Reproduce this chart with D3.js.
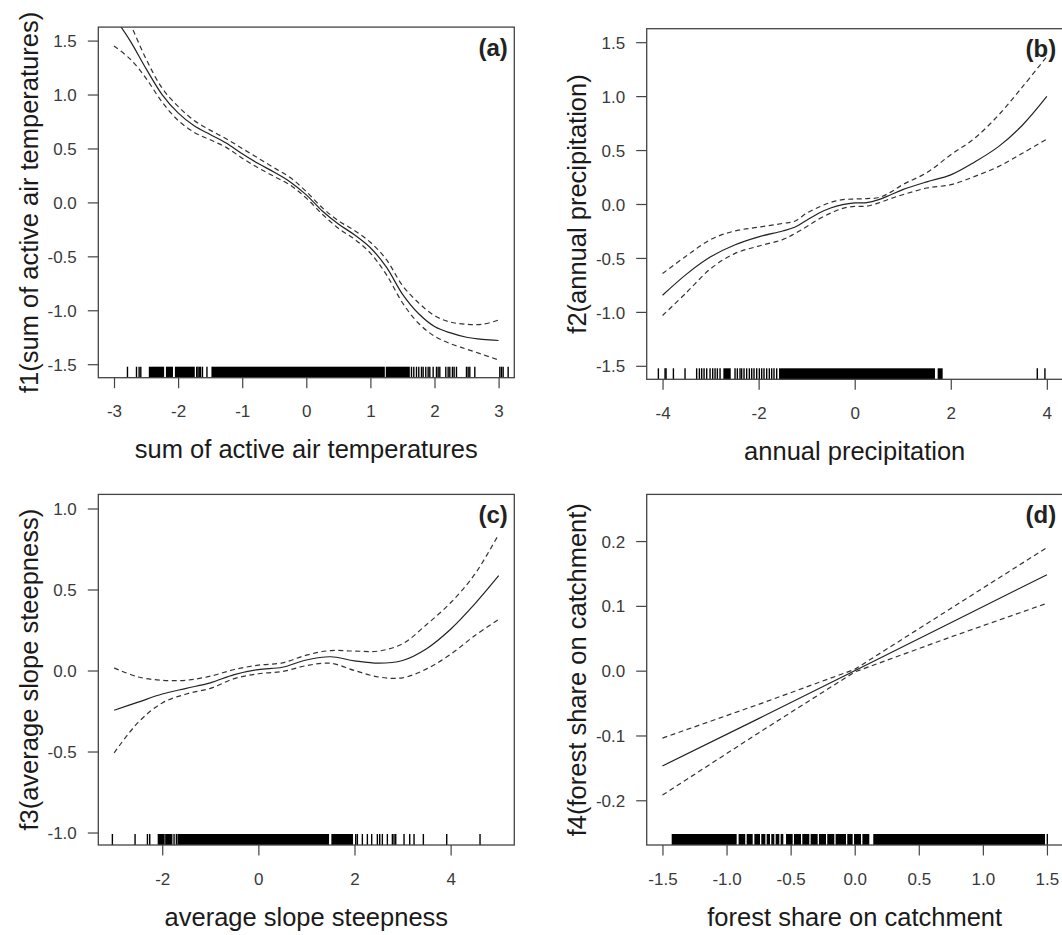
<!DOCTYPE html>
<html>
<head>
<meta charset="utf-8">
<script src="https://cdn.jsdelivr.net/npm/d3@7/dist/d3.min.js"></script>
<style>
  body { margin: 0; background: #fff; }
  svg { display: block; font-family: "Liberation Sans", Arial, sans-serif; }
</style>
</head>
<body>
<svg width="1062" height="935"></svg>
<script>
// ---- panel (a): sum of active air temperatures
var xA   = [-3,-2.75,-2.5,-2.25,-2,-1.75,-1.5,-1.25,-1,-0.75,-0.5,-0.25,0,0.25,0.5,0.75,1,1.25,1.5,1.75,2,2.25,2.5,2.75,3];
var fitA = [1.72,1.50,1.24,1.00,0.83,0.71,0.63,0.55,0.45,0.36,0.28,0.19,0.07,-0.08,-0.20,-0.30,-0.42,-0.60,-0.85,-1.03,-1.15,-1.21,-1.25,-1.27,-1.28];
var upA  = [1.95,1.66,1.33,1.06,0.89,0.76,0.67,0.59,0.50,0.41,0.32,0.23,0.10,-0.05,-0.17,-0.26,-0.37,-0.53,-0.77,-0.93,-1.05,-1.11,-1.13,-1.13,-1.09];
var loA  = [1.45,1.33,1.15,0.93,0.76,0.65,0.58,0.51,0.41,0.32,0.24,0.16,0.04,-0.11,-0.24,-0.34,-0.47,-0.67,-0.93,-1.12,-1.24,-1.31,-1.36,-1.41,-1.46];
var rugTicksA  = [-2.79,-2.649,-2.608,-2.582,-1.71,-1.69,-1.67,-1.65,-1.62,-1.55,1.641,1.677,1.719,1.755,1.797,1.823,1.864,1.901,1.927,1.979,2.031,2.057,2.083,2.176,2.213,2.239,2.28,2.306,2.343,2.499,2.525,2.551,2.629,3.019,3.045,3.071,3.149];
var rugBlocksA = [[-2.457,-2.218],[-2.19,-2.08],[-2.05,-1.74],[-1.48,1.225],[1.24,1.615]];
var xTicksA = [-3,-2,-1,0,1,2,3];
var yTicksA = [-1.5,-1,-0.5,0,0.5,1,1.5];

// ---- panel (b): annual precipitation
var xB   = [-4,-3.5,-3,-2.5,-2,-1.5,-1.25,-1,-0.75,-0.5,-0.25,0,0.25,0.5,0.75,1,1.5,2,2.5,3,3.5,4];
var fitB = [-0.846,-0.65,-0.49,-0.38,-0.305,-0.25,-0.216,-0.15,-0.085,-0.037,-0.006,0.01,0.012,0.04,0.086,0.133,0.205,0.27,0.39,0.534,0.735,0.997];
var upB  = [-0.645,-0.48,-0.33,-0.25,-0.215,-0.18,-0.16,-0.085,-0.03,0.015,0.04,0.046,0.05,0.06,0.11,0.18,0.29,0.457,0.611,0.827,1.09,1.367];
var loB  = [-1.034,-0.82,-0.6,-0.46,-0.39,-0.33,-0.275,-0.21,-0.14,-0.085,-0.04,-0.022,-0.02,0.01,0.05,0.086,0.148,0.179,0.256,0.349,0.472,0.602];
var rugTicksB  = [-4.087,-3.948,-3.927,-3.774,-3.532,-3.29,-3.233,-3.185,-3.136,-3.081,-3.011,-2.956,-2.907,-2.859,-2.803,-2.491,-2.443,-2.387,-2.353,-2.304,-2.249,-2.193,-2.144,-2.096,-2.04,-1.985,-1.936,-1.888,-1.832,-1.777,-1.728,-1.68,-1.624,3.801,3.96];
var rugBlocksB = [[-2.734,-2.581],[-1.575,1.671],[1.727,1.831]];
var xTicksB = [-4,-2,0,2,4];
var yTicksB = [-1.5,-1,-0.5,0,0.5,1,1.5];

// ---- panel (c): average slope steepness
var xC   = [-3,-2.5,-2,-1.5,-1,-0.5,0,0.5,1,1.5,2,2.5,3,3.5,4,4.5,5];
var fitC = [-0.245,-0.195,-0.145,-0.11,-0.076,-0.025,0.006,0.02,0.065,0.085,0.06,0.045,0.062,0.135,0.255,0.41,0.585];
var upC  = [0.016,-0.04,-0.06,-0.06,-0.035,0.006,0.033,0.047,0.095,0.123,0.12,0.12,0.165,0.284,0.418,0.593,0.84];
var loC  = [-0.508,-0.32,-0.2,-0.145,-0.11,-0.05,-0.02,-0.006,0.03,0.045,0.0,-0.04,-0.045,0.01,0.1,0.215,0.315];
var rugTicksC  = [-3.037,-2.565,-2.308,-2.26,-2.08,-2.052,-2.01,-1.941,-1.892,-1.802,-1.754,-1.705,2.026,2.06,2.164,2.268,2.358,2.476,2.525,2.58,2.684,2.788,2.823,2.858,3.031,3.149,3.239,3.433,3.919,4.612];
var rugBlocksC = [[-2.07,-1.96],[-1.93,-1.81],[-1.684,1.471],[1.519,1.97]];
var xTicksC = [-2,0,2,4];
var yTicksC = [-1,-0.5,0,0.5,1];

// ---- panel (d): forest share on catchment
var xD   = [-1.5,-0.75,0,0.75,1.5];
var fitD = [-0.147,-0.074,0,0.074,0.148];
var upD  = [-0.104,-0.052,0.002,0.096,0.19];
var loD  = [-0.192,-0.096,-0.002,0.052,0.104];
var rugTicksD  = [1.503];
var rugBlocksD = [[-1.428,-0.921],[-0.906,-0.854],[-0.843,-0.796],[-0.783,-0.739],[-0.729,-0.697],[-0.687,-0.661],[-0.651,-0.627],[-0.617,-0.588],[-0.578,-0.557],[-0.536,-0.484],[-0.474,-0.419],[-0.409,-0.354],[-0.344,-0.289],[-0.279,-0.224],[-0.214,-0.159],[-0.149,-0.068],[-0.058,-0.016],[-0.005,0.049],[0.06,0.114],[0.145,1.485]];
var xTicksD = [-1.5,-1,-0.5,0,0.5,1,1.5];
var yTicksD = [-0.2,-0.1,0,0.1,0.2];

var xTitles = ["sum of active air temperatures", "annual precipitation", "average slope steepness", "forest share on catchment"];
var yTitles = ["f1(sum of active air temperatures)", "f2(annual precipitation)", "f3(average slope steepness)", "f4(forest share on catchment)"];
var panelLabels = ["(a)", "(b)", "(c)", "(d)"];

var svg = d3.select("svg");
svg.append("rect").attr("width", 1062).attr("height", 935).attr("fill", "#fff");

var boxW = 416, boxH = 350.6;

var panels = [
  {left: 98.3,  top: 27.1,  xDom: [-3.245, 3.245], yDom: [-1.625, 1.625], xs: xA, fit: fitA, up: upA, lo: loA, rugT: rugTicksA, rugB: rugBlocksA, xt: xTicksA, yt: yTicksA, xfmt: d3.format("d"), curve: d3.curveCatmullRom},
  {left: 646.7, top: 28.7,  xDom: [-4.33, 4.33],   yDom: [-1.625, 1.625], xs: xB, fit: fitB, up: upB, lo: loB, rugT: rugTicksB, rugB: rugBlocksB, xt: xTicksB, yt: yTicksB, xfmt: d3.format("d"), curve: d3.curveCatmullRom},
  {left: 98.3,  top: 494.4, xDom: [-3.33, 5.325],  yDom: [-1.077, 1.087], xs: xC, fit: fitC, up: upC, lo: loC, rugT: rugTicksC, rugB: rugBlocksC, xt: xTicksC, yt: yTicksC, xfmt: d3.format("d"), curve: d3.curveCatmullRom},
  {left: 646.7, top: 494.4, xDom: [-1.623, 1.623], yDom: [-0.269, 0.272], xs: xD, fit: fitD, up: upD, lo: loD, rugT: rugTicksD, rugB: rugBlocksD, xt: xTicksD, yt: yTicksD, xfmt: function(v){ return v.toFixed(1); }, curve: d3.curveLinear}
];

function minusFix(s) { return String(s).replace("\u2212", "-"); }

panels.forEach(function(p, i) {
  var x = d3.scaleLinear().domain(p.xDom).range([0, boxW]);
  var y = d3.scaleLinear().domain(p.yDom).range([boxH, 0]);

  var g = svg.append("g").attr("transform", "translate(" + p.left + "," + p.top + ")");

  g.append("clipPath").attr("id", "clip" + i)
    .append("rect").attr("width", boxW).attr("height", boxH);

  // x axis ticks
  var xAxis = g.append("g")
    .attr("transform", "translate(0," + boxH + ")")
    .call(d3.axisBottom(x).tickValues(p.xt).tickSizeInner(10.5).tickSizeOuter(0)
      .tickFormat(function(v){ return minusFix(p.xfmt(v)); }));
  xAxis.select(".domain").remove();
  xAxis.selectAll("line").attr("stroke", "#444").attr("stroke-width", 1.2);
  xAxis.selectAll("text").attr("y", 39.6).attr("dy", null)
    .attr("fill", "#3a3a3a").style("font-size", "17px")
    .style("font-family", "'Liberation Sans', Arial, sans-serif");

  // y axis ticks
  var yAxis = g.append("g")
    .call(d3.axisLeft(y).tickValues(p.yt).tickSizeInner(10.5).tickSizeOuter(0)
      .tickFormat(function(v){ return v.toFixed(1); }));
  yAxis.select(".domain").remove();
  yAxis.selectAll("line").attr("stroke", "#444").attr("stroke-width", 1.2);
  yAxis.selectAll("text").attr("x", -21.5).attr("dy", "0.36em")
    .attr("fill", "#3a3a3a").style("font-size", "17px")
    .style("font-family", "'Liberation Sans', Arial, sans-serif");

  // rug
  var rug = g.append("g");
  rug.selectAll("rect.blk").data(p.rugB).enter().append("rect")
    .attr("x", function(d){ return x(d[0]); })
    .attr("width", function(d){ return x(d[1]) - x(d[0]); })
    .attr("y", boxH - 11).attr("height", 11)
    .attr("fill", "#000");
  rug.selectAll("line").data(p.rugT).enter().append("line")
    .attr("x1", function(d){ return x(d); }).attr("x2", function(d){ return x(d); })
    .attr("y1", boxH - 11).attr("y2", boxH)
    .attr("stroke", "#000").attr("stroke-width", 1.4);

  // curves
  var pts = p.xs.map(function(v, k){ return {x: v, f: p.fit[k], u: p.up[k], l: p.lo[k]}; });
  var curves = g.append("g").attr("clip-path", "url(#clip" + i + ")");
  function line(key) {
    return d3.line().curve(p.curve).x(function(d){ return x(d.x); }).y(function(d){ return y(d[key]); });
  }
  curves.append("path").datum(pts).attr("d", line("f"))
    .attr("fill", "none").attr("stroke", "#222").attr("stroke-width", 1.2);
  ["u", "l"].forEach(function(k) {
    curves.append("path").datum(pts).attr("d", line(k))
      .attr("fill", "none").attr("stroke", "#333").attr("stroke-width", 1.2)
      .attr("stroke-dasharray", "5,3.5");
  });

  // box
  g.append("rect").attr("width", boxW).attr("height", boxH)
    .attr("fill", "none").attr("stroke", "#444").attr("stroke-width", 1.3);

  // panel label
  g.append("text").text(panelLabels[i])
    .attr("x", boxW - 6.5).attr("y", 28.5)
    .attr("text-anchor", "end")
    .attr("font-weight", "bold").attr("font-size", "24px").attr("fill", "#222");

  // axis titles
  g.append("text").text(xTitles[i])
    .attr("x", boxW / 2).attr("y", boxH + 80.6)
    .attr("text-anchor", "middle").attr("font-size", "25.5px").attr("fill", "#1a1a1a");
  g.append("text").text(yTitles[i])
    .attr("transform", "translate(-60.5," + (boxH / 2) + ") rotate(-90)")
    .attr("text-anchor", "middle").attr("font-size", "25.5px").attr("fill", "#1a1a1a");
});
</script>
</body>
</html>
